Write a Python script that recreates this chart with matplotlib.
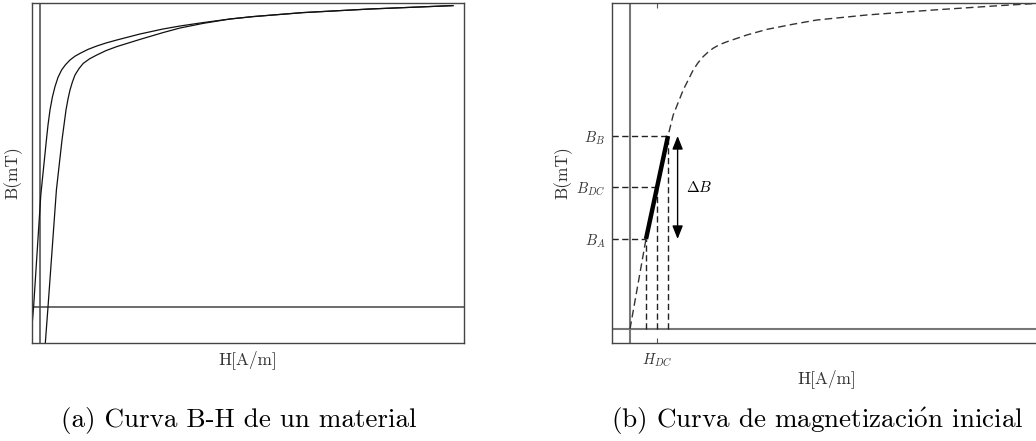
import numpy as np
import matplotlib
matplotlib.use("Agg")
import matplotlib.pyplot as plt

plt.rcParams['font.family'] = 'cmr10'
plt.rcParams['mathtext.fontset'] = 'cm'
plt.rcParams['axes.unicode_minus'] = False
plt.rcParams['axes.formatter.use_mathtext'] = True

# (a) hysteresis loop, H in A/m, B in mT (arbitrary scale, no ticks)
H_desc = [-48, -32, 4, 32, 40, 50, 62, 75, 90, 108, 128, 150, 175, 200, 240, 284,
          330, 384, 500, 615, 700, 815, 950, 1065, 1315, 1650, 2065]
B_desc = [-190, 0, 560, 835, 910, 985, 1050, 1102, 1148, 1185, 1212, 1235, 1254, 1268, 1288, 1305,
          1320, 1335, 1365, 1390, 1405, 1422, 1440, 1452, 1472, 1490, 1507]
H_asc = [24, 40, 82, 110, 120, 130, 140, 150, 162, 175, 195, 216, 248, 284,
         330, 384, 500, 615, 700, 815, 950, 1065, 1315, 1650, 2065]
B_asc = [-215, 0, 585, 835, 910, 985, 1040, 1085, 1125, 1160, 1192, 1218, 1241, 1260,
         1282, 1302, 1338, 1372, 1395, 1418, 1440, 1452, 1472, 1490, 1507]

# (b) initial magnetization curve
H_curve = [0, 80, 135, 190, 216, 266, 316, 340, 366, 390, 416, 448, 484, 584, 684, 816, 934,
           1183, 1517, 1850, 2035]
B_curve = [0, 450, 710, 965, 1070, 1195, 1295, 1331, 1362, 1384, 1404, 1422, 1436, 1470, 1498,
           1524, 1545, 1570, 1595, 1617, 1628]

# operating points A, DC, B
H_op = [80, 135, 190]
B_op = [450, 710, 965]
B_labels = [r'$B_A$', r'$B_{DC}$', r'$B_B$']
H_dc_label = r'$H_{DC}$'
H_arrow = 238

W, HH = 1036, 441
fig = plt.figure(figsize=(W / 100, HH / 100), dpi=100)


def add_ax(left, top, right, bottom):
    return fig.add_axes([left / W, 1 - bottom / HH, (right - left) / W, (bottom - top) / HH])


spine_col = '#444444'

# ---- panel (a)
ax1 = add_ax(32, 3, 464, 343)
ax1.set_xlim(-40, 2120)
ax1.set_ylim(-180, 1520)
ax1.axvline(0, color='#444444', lw=1.1)
ax1.axhline(0, color='#444444', lw=1.1)
ax1.plot(H_desc, B_desc, color='#111111', lw=0.9)
ax1.plot(H_asc, B_asc, color='#111111', lw=0.9)
ax1.set_xticks([])
ax1.set_yticks([])
for s in ax1.spines.values():
    s.set_color(spine_col)
    s.set_linewidth(1.0)
ax1.set_xlabel('H[A/m]', fontsize=12.5, color='#333333')
ax1.set_ylabel('B(mT)', fontsize=12.5, color='#333333')
ax1.xaxis.set_label_coords(0.5, -0.022)
ax1.yaxis.set_label_coords(-0.022, 0.5)

# ---- panel (b)
ax2 = add_ax(612, 3, 1042, 343)
ax2.set_xlim(-90, 2060)
ax2.set_ylim(-70, 1630)
ax2.axvline(0, color='#777777', lw=1.5)
ax2.axhline(0, color='#777777', lw=1.5)
ax2.plot(H_curve, B_curve, color='#333333', lw=1.0, dashes=(5.5, 3.0))

for h, b in zip(H_op, B_op):
    ax2.plot([-90, h], [b, b], color='#222222', lw=1.0, dashes=(4.5, 2.5))
    ax2.plot([h, h], [0, b], color='#222222', lw=1.0, dashes=(4.5, 2.5))

ax2.plot([H_op[0], H_op[-1]], [B_op[0], B_op[-1]], color='black', lw=3.2,
         solid_capstyle='butt')

ax2.annotate('', xy=(H_arrow, B_op[-1]), xytext=(H_arrow, B_op[0]),
             arrowprops=dict(arrowstyle='<|-|>,head_length=0.8,head_width=0.32',
                             color='black', lw=1.0, shrinkA=0, shrinkB=0))
ax2.text(H_arrow + 40, B_op[1], r'$\Delta B$', fontsize=11, va='center', ha='left')

ax2.set_xticks([H_op[1]])
ax2.set_xticklabels([H_dc_label], fontsize=10.5, color='#333333')
ax2.set_yticks(B_op)
ax2.set_yticklabels(B_labels, fontsize=10.5, color='#333333')
ax2.tick_params(axis='x', direction='in', top=True, length=3.5, width=0.8,
                color='#555555', pad=6)
ax2.tick_params(axis='y', direction='in', length=0, pad=5)
for s in ax2.spines.values():
    s.set_color(spine_col)
    s.set_linewidth(1.0)
ax2.set_xlabel('H[A/m]', fontsize=12.5, color='#333333')
ax2.set_ylabel('B(mT)', fontsize=12.5, color='#333333')
ax2.xaxis.set_label_coords(0.5, -0.078)
ax2.yaxis.set_label_coords(-0.091, 0.5)

# captions
fig.text(239 / W, 1 - 421 / HH, '(a) Curva B-H de un material', fontsize=19.5,
         ha='center', va='center')
fig.text(817 / W, 1 - 421 / HH, r'(b) Curva de magnetizaci$\acute{\mathrm{o}}$n inicial',
         fontsize=19.5, ha='center', va='center')

fig.savefig('out.png', dpi=100)
